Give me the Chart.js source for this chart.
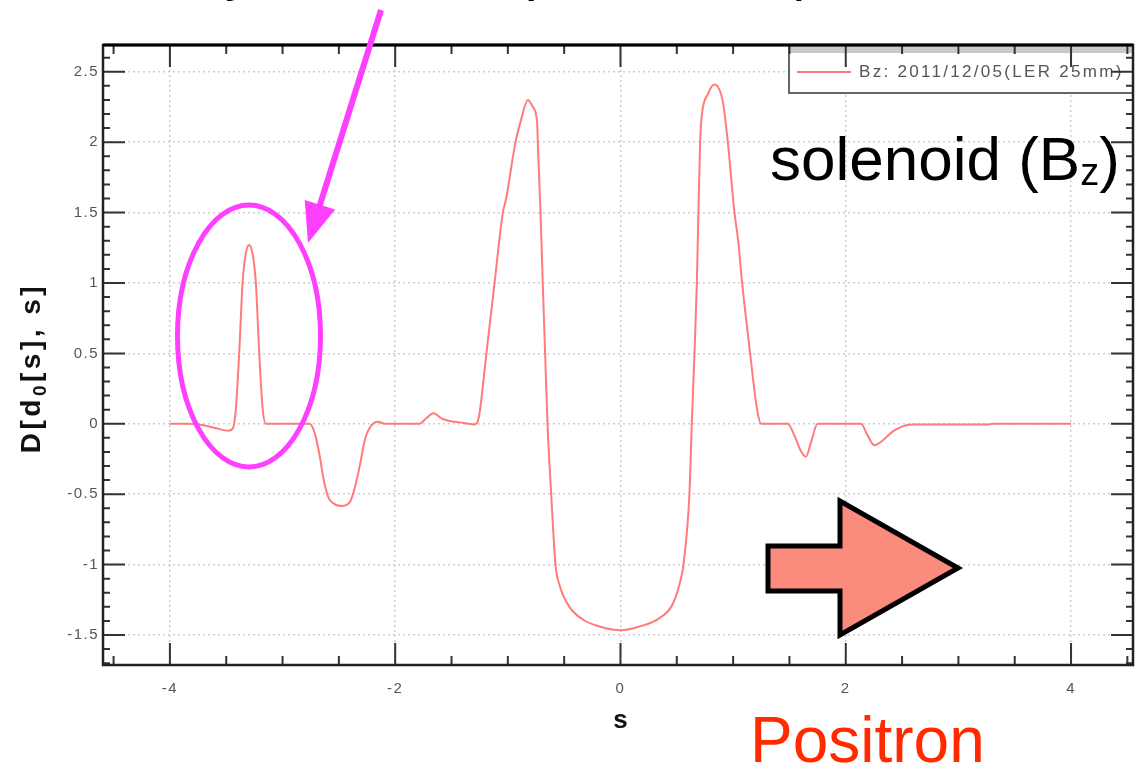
<!DOCTYPE html>
<html lang="en">
<head>
<meta charset="UTF-8">
<title>Bz along s</title>
<style>
  html, body { margin: 0; padding: 0; background: #fff; }
  #wrap { width: 1135px; height: 766px; }
</style>
</head>
<body>
<div id="wrap"><canvas id="bzChart" width="1135" height="766"></canvas></div>

<script src="https://cdn.jsdelivr.net/npm/chart.js@4"></script>
<script>
// s [m] and D[d0[s], s] along the ring for the Bz trace
const sValues = [
  -4.00, -3.85, -3.70, -3.59, -3.48, -3.44, -3.415, -3.385, -3.355, -3.326,
  -3.297, -3.267, -3.237, -3.208, -3.178, -3.148, -2.76, -2.714, -2.67, -2.64,
  -2.596, -2.55, -2.477, -2.40, -2.356, -2.31, -2.27, -2.21, -2.152, -2.093,
  -1.783, -1.725, -1.659, -1.59, -1.517, -1.428, -1.35, -1.30, -1.266, -1.25,
  -1.19, -1.118, -1.044, -1.015, -0.932, -0.882, -0.822, -0.778, -0.74, -0.734,
  -0.71, -0.69, -0.669, -0.648, -0.615, -0.577, -0.541, -0.453, -0.334, -0.186,
  0.0, 0.169, 0.346, 0.464, 0.538, 0.559, 0.612, 0.633, 0.657, 0.678,
  0.692, 0.707, 0.722, 0.775, 0.834, 0.908, 0.953, 1.012, 1.045, 1.08,
  1.151, 1.213, 1.249, 1.484, 1.543, 1.603, 1.647, 1.691, 1.75, 2.135,
  2.193, 2.253, 2.327, 2.415, 2.504, 2.593, 3.27, 3.30, 4.00
];
const dValues = [
  0, 0, -0.01, -0.032, -0.049, -0.03, 0.10, 0.50, 1.00, 1.21,
  1.27, 1.21, 1.00, 0.52, 0.12, 0, 0, -0.068, -0.23, -0.376,
  -0.517, -0.565, -0.584, -0.553, -0.447, -0.28, -0.115, -0.01, 0.015, 0,
  0, 0.039, 0.075, 0.039, 0.02, 0.01, 0, -0.005, 0.02, 0.08,
  0.50, 1.00, 1.50, 1.60, 2.00, 2.16, 2.30, 2.25, 2.14, 2.00,
  1.50, 1.00, 0.50, 0, -0.50, -1.00, -1.146, -1.30, -1.39, -1.44,
  -1.467, -1.44, -1.38, -1.28, -1.095, -1.00, -0.50, 0, 0.50, 1.00,
  1.50, 2.00, 2.19, 2.34, 2.41, 2.29, 2.00, 1.50, 1.30, 1.00,
  0.50, 0.10, 0, 0, -0.081, -0.195, -0.234, -0.132, 0, 0,
  -0.081, -0.152, -0.119, -0.056, -0.018, -0.005, -0.005, 0, 0
];
const sTicks = [-4, -2, 0, 2, 4];
const dTicks = [-1.5, -1, -0.5, 0, 0.5, 1, 1.5, 2, 2.5];
const seriesLabel = 'Bz: 2011/12/05(LER 25mm)';
const lineColor = '#ff7b7b';

// draws a run of text pieces (font / baseline shift) starting at x
function drawPieces(ctx, pieces, x, y) {
  for (const p of pieces) {
    ctx.font = p.font;
    ctx.fillText(p.t, x, y + (p.dy || 0));
    x += ctx.measureText(p.t).width;
  }
}
function piecesWidth(ctx, pieces) {
  let w = 0;
  for (const p of pieces) { ctx.font = p.font; w += ctx.measureText(p.t).width; }
  return w;
}

// wider spacing for the tick numbers, switched off before the trace is drawn
const tickSpacing = {
  id: 'tickSpacing',
  beforeDraw(chart) { chart.ctx.letterSpacing = '1.5px'; },
  beforeDatasetsDraw(chart) { chart.ctx.letterSpacing = '0px'; }
};

const decorations = {
  id: 'decorations',
  afterDraw(chart) {
    const ctx = chart.ctx;
    const a = chart.chartArea;
    const xs = chart.scales.x, ys = chart.scales.y;
    ctx.save();
    ctx.letterSpacing = '0px';

    // legend box in the upper right corner
    ctx.fillStyle = '#fff';
    ctx.fillRect(789, a.top, a.right - 789, 48);
    ctx.fillStyle = '#c9c9c9';
    ctx.fillRect(789, a.top, a.right - 789, 8);
    ctx.strokeStyle = '#333';
    ctx.lineWidth = 1.5;
    ctx.strokeRect(789, a.top, a.right - 789, 48);
    ctx.strokeStyle = lineColor;
    ctx.lineWidth = 2;
    ctx.beginPath(); ctx.moveTo(797, 72); ctx.lineTo(851, 72); ctx.stroke();
    ctx.fillStyle = '#555';
    ctx.font = '17px "Liberation Sans"';
    ctx.textAlign = 'left';
    ctx.textBaseline = 'middle';
    ctx.letterSpacing = '2.3px';
    ctx.fillText(seriesLabel, 859, 72);
    ctx.letterSpacing = '0px';

    // inward tick marks on all four sides
    ctx.strokeStyle = '#333';
    ctx.lineWidth = 2;
    ctx.beginPath();
    for (let v = Math.ceil(xs.min / 0.5) * 0.5; v <= xs.max; v += 0.5) {
      const px = xs.getPixelForValue(v);
      const major = Math.abs(v / 2 - Math.round(v / 2)) < 1e-6;
      const len = major ? 22 : 9;
      ctx.moveTo(px, a.bottom); ctx.lineTo(px, a.bottom - len);
      ctx.moveTo(px, a.top); ctx.lineTo(px, a.top + len);
    }
    for (let i = Math.ceil(ys.min * 10); i <= ys.max * 10; i++) {
      const py = ys.getPixelForValue(i / 10);
      const len = i % 5 === 0 ? 22 : 7;
      ctx.moveTo(a.left, py); ctx.lineTo(a.left + len, py);
      ctx.moveTo(a.right, py); ctx.lineTo(a.right - len, py);
    }
    ctx.stroke();

    // plot frame
    ctx.lineWidth = 2.5;
    ctx.strokeStyle = '#222';
    ctx.strokeRect(a.left, a.top, a.right - a.left, a.bottom - a.top);
    ctx.strokeStyle = '#000';
    ctx.lineWidth = 3;
    ctx.beginPath(); ctx.moveTo(a.left, a.top); ctx.lineTo(a.right, a.top); ctx.stroke();

    // axis titles
    ctx.fillStyle = '#111';
    ctx.textBaseline = 'alphabetic';
    ctx.textAlign = 'center';
    ctx.font = 'bold 26px "Liberation Sans"';
    ctx.fillText('s', xs.getPixelForValue(0), 728);
    ctx.textAlign = 'left';
    const yTitle = [
      { t: 'D[d', font: 'bold 28px "Liberation Sans"' },
      { t: '0', font: 'bold 19px "Liberation Sans"', dy: 6 },
      { t: '[s], s]', font: 'bold 28px "Liberation Sans"' }
    ];
    ctx.save();
    ctx.translate(40, 368);
    ctx.rotate(-Math.PI / 2);
    ctx.letterSpacing = '3.5px';
    drawPieces(ctx, yTitle, -piecesWidth(ctx, yTitle) / 2, 0);
    ctx.restore();

    // headline running off the top edge
    ctx.fillStyle = '#000';
    ctx.textAlign = 'left';
    ctx.textBaseline = 'alphabetic';
    ctx.font = '58px "Liberation Sans"';
    ctx.fillText('Field by the z-component of (ESL solenoid)', 51, -11);

    // solenoid label
    drawPieces(ctx, [
      { t: 'solenoid (B', font: '62px "Liberation Sans"' },
      { t: 'z', font: '38px "Liberation Sans"', dy: 5 },
      { t: ')', font: '62px "Liberation Sans"' }
    ], 770, 180);

    // magenta pointer and ring around the small peak
    ctx.strokeStyle = '#ff3fff';
    ctx.fillStyle = '#ff3fff';
    ctx.lineWidth = 5;
    ctx.beginPath();
    ctx.ellipse(249, 336, 71.5, 131, 0, 0, Math.PI * 2);
    ctx.stroke();
    const tip = { x: 308, y: 243 }, tail = { x: 381, y: 10 };
    const dx = tip.x - tail.x, dy = tip.y - tail.y, L = Math.hypot(dx, dy);
    const ux = dx / L, uy = dy / L, hl = 40, hw = 16;
    const bx = tip.x - ux * hl, by = tip.y - uy * hl;
    ctx.lineWidth = 6;
    ctx.beginPath(); ctx.moveTo(tail.x, tail.y); ctx.lineTo(bx + ux * 4, by + uy * 4); ctx.stroke();
    ctx.beginPath();
    ctx.moveTo(tip.x, tip.y);
    ctx.lineTo(bx - uy * hw, by + ux * hw);
    ctx.lineTo(bx + uy * hw, by - ux * hw);
    ctx.closePath(); ctx.fill();

    // block arrow showing the beam direction
    ctx.fillStyle = '#fb8b7d';
    ctx.strokeStyle = '#000';
    ctx.lineWidth = 5;
    ctx.lineJoin = 'miter';
    ctx.beginPath();
    ctx.moveTo(768, 546); ctx.lineTo(840, 546); ctx.lineTo(840, 501);
    ctx.lineTo(958, 568); ctx.lineTo(840, 635); ctx.lineTo(840, 591);
    ctx.lineTo(768, 591); ctx.closePath();
    ctx.fill(); ctx.stroke();

    ctx.fillStyle = '#ff2a00';
    ctx.font = '64px "Liberation Sans"';
    ctx.fillText('Positron', 750, 762);

    ctx.restore();
  }
};

new Chart(document.getElementById('bzChart'), {
  type: 'line',
  data: {
    datasets: [{
      label: seriesLabel,
      data: sValues.map((s, i) => ({ x: s, y: dValues[i] })),
      borderColor: lineColor,
      borderWidth: 2,
      pointRadius: 0,
      cubicInterpolationMode: 'monotone',
      fill: false
    }]
  },
  options: {
    responsive: false,
    animation: false,
    devicePixelRatio: 1,
    layout: { padding: { top: 45, right: 2, left: 0, bottom: 0 } },
    plugins: { legend: { display: false }, tooltip: { enabled: false } },
    scales: {
      x: {
        type: 'linear',
        min: -4.594,
        max: 4.55,
        afterBuildTicks: s => { s.ticks = sTicks.map(v => ({ value: v })); },
        afterFit: s => { s.height = 101; },
        ticks: {
          color: '#555',
          font: { family: 'Liberation Sans', size: 15 },
          padding: 15,
          maxRotation: 0,
          callback: v => String(v)
        },
        grid: { color: '#cdcdcd', lineWidth: 1.5, drawTicks: false },
        border: { display: false, dash: [2, 3] }
      },
      y: {
        min: -1.713,
        max: 2.69,
        afterBuildTicks: s => { s.ticks = dTicks.map(v => ({ value: v })); },
        afterFit: s => { s.width = 103; },
        ticks: {
          color: '#555',
          font: { family: 'Liberation Sans', size: 15 },
          padding: 4,
          callback: v => String(v)
        },
        grid: { color: '#cdcdcd', lineWidth: 1.5, drawTicks: false },
        border: { display: false, dash: [2, 3] }
      }
    }
  },
  plugins: [tickSpacing, decorations]
});
</script>
</body>
</html>
